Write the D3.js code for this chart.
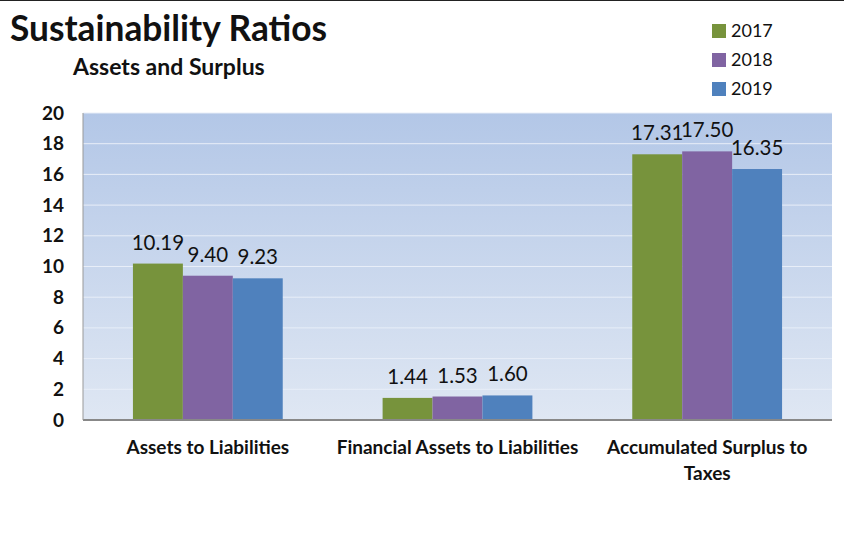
<!DOCTYPE html>
<html><head><meta charset="utf-8">
<script src="https://cdn.jsdelivr.net/npm/d3@7"></script>
<style>body{margin:0;background:#fff}svg{display:block}</style>
</head><body>
<svg id="chart" width="844" height="534"></svg>
<script>
const categories = ["Assets to Liabilities", "Financial Assets to Liabilities", "Accumulated Surplus to Taxes"];
const years = ["2017", "2018", "2019"];
const values2017 = [10.19, 1.44, 17.31];
const values2018 = [9.40, 1.53, 17.50];
const values2019 = [9.23, 1.60, 16.35];
const yTicks = [0, 2, 4, 6, 8, 10, 12, 14, 16, 18, 20];
const colors = ["#77933c", "#8064a2", "#4f81bd"];

(function () {
const series = [values2017, values2018, values2019];
const svg = d3.select("#chart");
const font = "Lato, 'Open Sans', sans-serif";

const pL = 83, pR = 832, pT = 113, pB = 420;
const x = d3.scaleBand().domain(categories).range([pL, pR]).paddingInner(0.4).paddingOuter(0.2);
const xs = d3.scaleBand().domain(years).range([0, x.bandwidth()]);
const y = d3.scaleLinear().domain([0, 20]).range([pB, pT]);

svg.append("line").attr("x1", 0).attr("x2", 844).attr("y1", 0.5).attr("y2", 0.5).attr("stroke", "#222").attr("stroke-width", 1);

const defs = svg.append("defs");
const grad = defs.append("linearGradient").attr("id", "bg").attr("x1", 0).attr("x2", 0).attr("y1", 0).attr("y2", 1);
grad.append("stop").attr("offset", "0%").attr("stop-color", "#b3c7e7");
grad.append("stop").attr("offset", "100%").attr("stop-color", "#dfe7f3");

svg.append("rect").attr("x", pL).attr("y", pT).attr("width", pR - pL).attr("height", pB - pT).attr("fill", "url(#bg)");

svg.append("g").selectAll("line").data(yTicks.filter(d => d > 0)).join("line")
  .attr("x1", pL).attr("x2", pR).attr("y1", d => y(d)).attr("y2", d => y(d))
  .attr("stroke", "#e8eef8").attr("stroke-width", 1);

const groups = svg.append("g").selectAll("g").data(categories).join("g")
  .attr("transform", d => `translate(${x(d)},0)`);
years.forEach((yr, si) => {
  groups.append("rect")
    .attr("x", xs(yr)).attr("width", xs.bandwidth())
    .attr("y", (d, i) => y(series[si][i])).attr("height", (d, i) => pB - y(series[si][i]))
    .attr("fill", colors[si]);
  groups.append("text")
    .attr("x", xs(yr) + xs.bandwidth() / 2)
    .attr("y", (d, i) => y(series[si][i]) - 14)
    .attr("text-anchor", "middle")
    .attr("font-family", font).attr("font-size", 20.5).attr("fill", "#111")
    .text((d, i) => series[si][i].toFixed(2));
});

svg.append("line").attr("x1", pL).attr("x2", pR).attr("y1", pB).attr("y2", pB).attr("stroke", "#888").attr("stroke-width", 2);
svg.append("line").attr("x1", pL).attr("x2", pL).attr("y1", pT).attr("y2", pB).attr("stroke", "#999").attr("stroke-width", 1);

const yAxis = d3.axisLeft(y).tickValues(yTicks).tickSize(0).tickPadding(19);
const yg = svg.append("g").attr("transform", `translate(${pL},0)`).call(yAxis);
yg.select(".domain").remove();
yg.selectAll("text").attr("font-family", font).attr("font-size", 19).attr("font-weight", "bold").attr("fill", "#111");

const xg = svg.append("g");
categories.forEach(c => {
  const lines = c === "Accumulated Surplus to Taxes" ? ["Accumulated Surplus to", "Taxes"] : [c];
  lines.forEach((l, li) => {
    xg.append("text").attr("x", x(c) + x.bandwidth() / 2).attr("y", 454 + li * 26)
      .attr("text-anchor", "middle").attr("font-family", font).attr("font-size", 19)
      .attr("font-weight", "bold").attr("fill", "#111").text(l);
  });
});

svg.append("text").attr("x", 10).attr("y", 41).attr("font-family", font).attr("font-size", 35.3)
  .attr("font-weight", "bold").attr("fill", "#111").text("Sustainability Ratios");
svg.append("text").attr("x", 73).attr("y", 75).attr("font-family", font).attr("font-size", 23)
  .attr("font-weight", "bold").attr("fill", "#111").text("Assets and Surplus");

const lg = svg.append("g");
years.forEach((yr, i) => {
  lg.append("rect").attr("x", 712).attr("y", 24 + i * 29).attr("width", 14).attr("height", 14).attr("fill", colors[i]);
  lg.append("text").attr("x", 731).attr("y", 37 + i * 29).attr("font-family", font).attr("font-size", 18)
    .attr("fill", "#111").text(yr);
});
})();
</script>
</body></html>
